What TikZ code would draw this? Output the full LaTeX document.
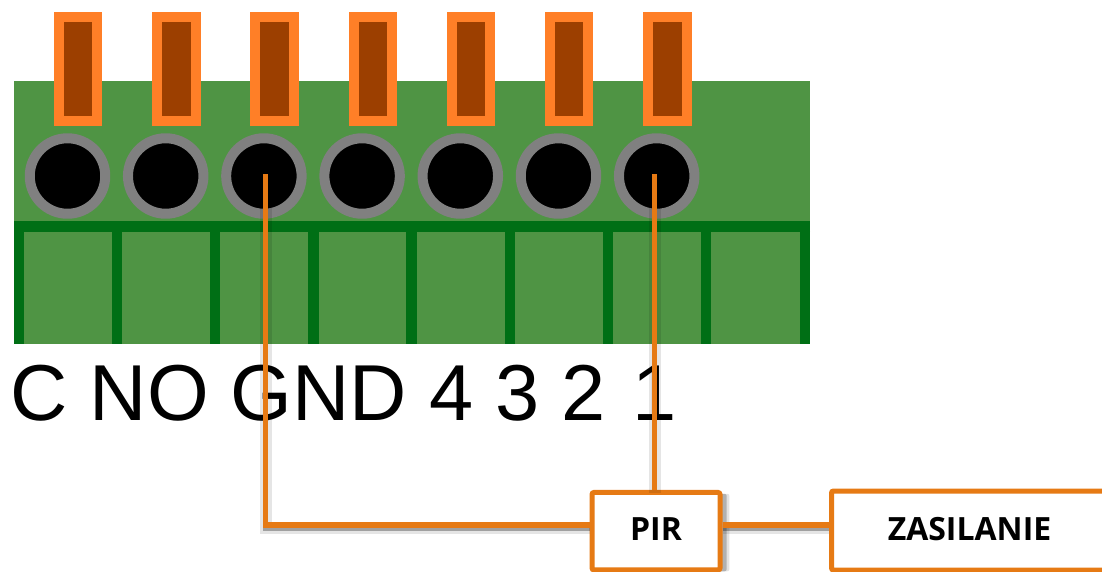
\documentclass[tikz,border=0pt]{standalone}
\usepackage{fontspec}
\setmainfont{Liberation Sans}
\newfontfamily\boxfont{Open Sans}
\usetikzlibrary{shadows}
\definecolor{boardgreen}{RGB}{79,148,68}
\definecolor{rimgreen}{RGB}{0,111,21}
\definecolor{taborange}{RGB}{255,127,39}
\definecolor{tabbrown}{RGB}{156,63,0}
\definecolor{wireorange}{RGB}{230,122,20}
\tikzset{every picture/.style={line width=0.75pt}}
\tikzset{
	tabbox/.style={draw=taborange,fill=tabbrown,line width=7.5pt,minimum width=28.9pt,minimum height=77.6pt,inner sep=0pt},
	pinhole/.style={circle,draw=gray,fill=black,line width=7.5pt,minimum size=56.6pt,inner sep=0pt},
	slotline/.style={rimgreen,line width=7.8pt},
	wire/.style={wireorange,line width=4pt},
	wireshade/.style={black,opacity=0.3,line width=4pt},
	wireglow/.style={black,opacity=0.1,line width=9pt},
	labelbox/.style={draw=wireorange,fill=white,line width=3.75pt,rounded corners=1.5pt,inner sep=0pt,text depth=3pt,font=\boxfont\bfseries\fontsize{24}{28}\selectfont}
}

\begin{document}
\begin{tikzpicture}[x=0.75pt,y=0.75pt,yscale=-1]
	\clip (0,0) rectangle (1102,571);
	
	%Shape: Board
	\fill [boardgreen] (13.5,81) rectangle (810,343.5);
	%Shape: Slots
	\draw [slotline] (810,226.5) -- (13.5,226.5);
	\foreach \x in {18.7,117,215.2,313.4,411.6,509.8,608,706,804.8}
		\draw [slotline] (\x,221) -- (\x,343.5);
	
	%Shape: Tabs and holes
	\foreach \i in {1,...,7}{
		\node [tabbox] (tab\i) at ({78.2+98.2*(\i-1)},68.8) {};
		\node [pinhole] (pin\i) at ({67.5+98.2*(\i-1)},176) {};
	}
	
	% Text Node
	\node [anchor=base west,inner sep=0pt,font=\fontsize{59.5}{64}\selectfont] (pinlabels) at (10,420.5) {C NO GND 4 3 2 \kern4pt 1};
	
	% Boxes
	\node [labelbox,minimum width=96pt,minimum height=58.1pt,
		drop shadow={shadow xshift=7pt,shadow yshift=-1pt,opacity=0.22},
		drop shadow={shadow xshift=5pt,shadow yshift=-1pt,opacity=0.5}] (pir) at (656,531.2) {PIR};
	\node [labelbox,minimum width=207pt,minimum height=59.25pt] (zasilanie) at (969.5,530.5) {ZASILANIE};
	
	% Wires, shade first
	\coordinate (gndend) at (265.8,174);
	\coordinate (oneend) at (654.5,174);
	\coordinate (tapy) at (0,525);
	\begin{scope}[transform canvas={yshift=-2.5pt}]
		\draw [wireglow] (gndend) |- (pir.west |- tapy);
		\draw [wireglow] (oneend) -- (oneend |- pir.north);
		\draw [wireglow] (pir.east |- tapy) -- (zasilanie.west |- tapy);
		\draw [wireshade] (gndend) |- (pir.west |- tapy);
		\draw [wireshade] (pir.east |- tapy) -- (zasilanie.west |- tapy);
	\end{scope}
	\draw [wire] (gndend) |- (pir.west |- tapy);
	\draw [wire] (oneend) -- (oneend |- pir.north);
	\draw [wire] (pir.east |- tapy) -- (zasilanie.west |- tapy);
\end{tikzpicture}
\end{document}
